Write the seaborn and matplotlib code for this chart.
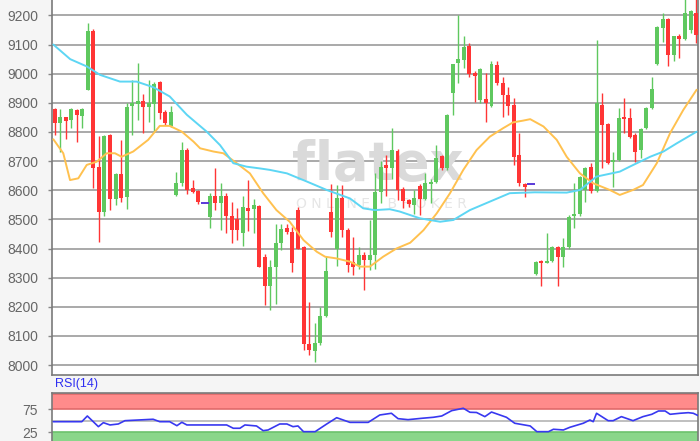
import numpy as np
import pandas as pd
import matplotlib
matplotlib.use('Agg')
import matplotlib.pyplot as plt
import seaborn as sns

# candles (daily)
opens = [8880, 8830, 8850, 8840, 8877, 8855, 8945, 9145, 8680, 8525,
         8790, 8570, 8655, 8578, 8890, 8895, 8905, 8887, 8895, 8970,
         8870, 8821, 8584, 8624, 8738, 8607, 8596, 8558, 8509, 8580,
         8557, 8581, 8510, 8500, 8454, 8540, 8535, 8545, 8372, 8272,
         8337, 8418, 8470, 8456, 8532, 8406, 8074, 8050, 8075, 8170,
         8525, 8400, 8572, 8463, 8355, 8343, 8377, 8362, 8378, 8595,
         8687, 8676, 8735, 8603, 8567, 8550, 8615, 8570, 8622, 8630,
         8716, 8678, 8935, 9038, 9048, 9094, 9004, 8910, 8912, 8890,
         9030, 8967, 8927, 8893, 8721, 8622, 8621, 8312, 8358, 8352,
         8358, 8406, 8370, 8406, 8512, 8520, 8600, 8681, 8598, 8893,
         8828, 8696, 8704, 8851, 8847, 8790, 8738, 8813, 8882, 9035,
         9156, 9187, 9065, 9128, 9119, 9151, 9208]
highs = [8882, 8880, 8852, 8882, 8880, 8882, 9175, 9153, 8785, 8790,
         8792, 8658, 8773, 8900, 8980, 9036, 8930, 8980, 8970, 8975,
         8875, 8890, 8662, 8765, 8745, 8635, 8600, 8560, 8592, 8675,
         8624, 8590, 8560, 8540, 8580, 8635, 8570, 8550, 8380, 8360,
         8485, 8485, 8484, 8475, 8544, 8410, 8215, 8145, 8200, 8375,
         8620, 8618, 8618, 8470, 8440, 8405, 8389, 8498, 8660, 8700,
         8720, 8815, 8740, 8610, 8570, 8600, 8620, 8658, 8640, 8756,
         8720, 8862, 9035, 9200, 9128, 9107, 9010, 9019, 9002, 9044,
         9045, 8990, 8956, 8916, 8796, 8625, 8622, 8358, 8360, 8452,
         8410, 8410, 8435, 8515, 8624, 8650, 8680, 8693, 9116, 8933,
         8830, 8733, 8882, 8916, 8882, 8795, 8815, 8885, 8988, 9165,
         9210, 9190, 9130, 9135, 9255, 9220, 9255]
lows = [8790, 8730, 8775, 8812, 8765, 8815, 8945, 8607, 8423, 8512,
        8532, 8550, 8560, 8535, 8790, 8840, 8798, 8836, 8800, 8845,
        8825, 8818, 8582, 8615, 8588, 8590, 8553, 8556, 8470, 8532,
        8463, 8455, 8420, 8430, 8410, 8460, 8455, 8335, 8205, 8190,
        8210, 8395, 8450, 8318, 8398, 8052, 8035, 8012, 8070, 8165,
        8440, 8340, 8440, 8320, 8310, 8330, 8257, 8326, 8330, 8555,
        8580, 8640, 8567, 8540, 8544, 8520, 8515, 8565, 8555, 8625,
        8670, 8670, 8860, 8967, 9020, 8988, 8904, 8900, 8836, 8885,
        8960, 8853, 8859, 8687, 8615, 8578, 8620, 8308, 8270, 8350,
        8355, 8270, 8337, 8400, 8469, 8510, 8560, 8590, 8595, 8675,
        8690, 8612, 8700, 8796, 8780, 8698, 8710, 8810, 8880, 9030,
        9110, 9025, 9042, 9053, 9115, 9140, 9105]
closes = [8830, 8850, 8838, 8880, 8860, 8880, 9148, 8678, 8525, 8786,
          8570, 8655, 8575, 8885, 8900, 8905, 8885, 8900, 8963, 8865,
          8832, 8867, 8626, 8738, 8600, 8595, 8560, 8558, 8580, 8557,
          8581, 8510, 8463, 8462, 8542, 8528, 8548, 8335, 8272, 8337,
          8418, 8466, 8456, 8350, 8400, 8074, 8052, 8075, 8170, 8323,
          8458, 8572, 8463, 8345, 8338, 8377, 8362, 8377, 8595, 8680,
          8676, 8738, 8600, 8564, 8553, 8572, 8570, 8626, 8627, 8710,
          8678, 8859, 9033, 9050, 9093, 9000, 8993, 9016, 8901, 9033,
          8967, 8927, 8890, 8715, 8624, 8610, 8621, 8355, 8351, 8358,
          8405, 8370, 8406, 8509, 8520, 8647, 8675, 8598, 8899, 8825,
          8695, 8704, 8847, 8844, 8784, 8733, 8810, 8882, 8947, 9162,
          9187, 9065, 9128, 9119, 9208, 9214, 9134]

# moving averages (read at candle positions)
ma_fast_x = [-0.25, 1.55, 2.77, 4.27, 5.79, 7.6, 9.4, 10.9, 12.1, 14.2,
             16.9, 19.0, 20.8, 23.0, 25.1, 26.3, 28.7, 30.5, 32.9, 35.3,
             37.7, 40.1, 42.5, 45.0, 47.4, 48.9, 51.0, 53.4, 55.2, 57.0,
             59.4, 61.8, 64.3, 66.7, 69.1, 71.5, 73.9, 76.3, 78.7, 81.1,
             82.9, 84.7, 86.0, 88.4, 90.8, 92.6, 95.0, 97.4, 100.4, 102.2,
             104.6, 106.4, 108.9, 111.3, 113.7, 116.1]
ma_fast = [8775, 8727, 8635, 8641, 8687, 8698, 8727, 8727, 8715, 8733,
           8773, 8821, 8821, 8801, 8767, 8744, 8733, 8727, 8693, 8658,
           8590, 8532, 8492, 8429, 8389, 8372, 8366, 8355, 8338, 8338,
           8372, 8400, 8420, 8463, 8521, 8590, 8670, 8738, 8784, 8813,
           8833, 8839, 8844, 8819, 8773, 8715, 8658, 8624, 8601, 8584,
           8601, 8618, 8693, 8796, 8876, 8945]
ma_slow_x = [-0.25, 2.8, 5.8, 8.2, 11.8, 14.8, 17.8, 20.8, 23.9, 27.5,
             29.9, 32.3, 34.7, 37.1, 38.9, 42.0, 45.6, 49.2, 53.4, 55.8,
             57.9, 60.6, 62.4, 66.0, 69.7, 72.1, 75.1, 78.7, 82.3, 86.8,
             92.6, 95.0, 98.0, 102.2, 104.0, 107.7, 110.1, 112.5, 116.1]
ma_slow = [9100, 9050, 9025, 8996, 8973, 8973, 8954, 8922, 8859, 8801,
           8755, 8693, 8681, 8675, 8670, 8658, 8630, 8601, 8572, 8538,
           8532, 8535, 8527, 8504, 8492, 8498, 8532, 8561, 8590, 8593,
           8592, 8601, 8647, 8664, 8681, 8715, 8733, 8761, 8801]

# RSI(14)
rsi_x = [-0.25, 4.9, 5.9, 7.9, 8.8, 10.0, 11.5, 12.7, 17.8, 19.0,
         20.8, 22.1, 23.0, 23.9, 31.1, 32.3, 33.5, 34.4, 36.5, 37.7,
         38.6, 40.7, 42.0, 43.1, 44.0, 45.0, 47.1, 49.2, 51.0, 53.4,
         56.7, 58.8, 60.9, 62.1, 63.9, 66.4, 68.5, 70.0, 71.8, 73.9,
         75.1, 76.3, 77.8, 79.0, 81.7, 83.2, 86.0, 87.2, 89.3, 90.2,
         92.0, 93.2, 95.6, 96.8, 97.4, 98.0, 100.1, 101.0, 102.5, 104.6,
         106.4, 108.0, 109.2, 110.4, 111.3, 113.1, 114.6, 115.5, 116.4]
rsi = [48, 48, 60.4, 37.2, 45.9, 40.9, 43, 50.2, 53.3, 48,
       48, 39.3, 46.7, 40.9, 40.9, 33.7, 33.7, 40.9, 38.7, 28.5,
       30, 43, 43, 37.2, 38.7, 26.3, 26.3, 43, 56.7, 46.5,
       46.5, 62.6, 66.3, 54.6, 52.4, 55.4, 57.6, 60.4, 72, 77.2,
       68.5, 68, 59, 69, 57.6, 44.6, 38.7, 26.3, 26.3, 31.5,
       30, 35.9, 44.6, 51.7, 48, 66.3, 50.2, 50.2, 59, 50.2,
       59, 64.1, 71.3, 71.3, 64.1, 66.3, 67.6, 66.3, 61.1]

price_ticks = [8000, 8100, 8200, 8300, 8400, 8500, 8600, 8700, 8800, 8900, 9000, 9100, 9200]
rsi_ticks = [25, 75]

green = '#5fc85f'
red = '#ff3535'
doji = '#5a3ad8'
grid_col = '#a9a9a9'
tick_col = '#666666'

df = pd.DataFrame({'open': opens, 'high': highs, 'low': lows, 'close': closes})
df['i'] = np.arange(len(df))
df['col'] = np.where(df['close'] > df['open'], green, red)
df['col'] = np.where(df['close'] == df['open'], doji, df['col'])

sns.set_theme(style='white')
plt.rcParams['font.family'] = ['Liberation Sans', 'DejaVu Sans']

fig = plt.figure(figsize=(7, 4.41), dpi=100, facecolor='#f5f5f5')
ax = fig.add_axes([52 / 700, 1 - 375 / 441, 646 / 700, 375 / 441])
ax2 = fig.add_axes([52 / 700, 0, 646 / 700, 48 / 441])

# main panel
ax.set_facecolor('white')
ax.set_yticks(price_ticks)
ax.set_xticks([])
ax.yaxis.grid(True, color=grid_col, lw=1.4, zorder=0)
ax.set_axisbelow(True)
ax.tick_params(axis='y', length=3, width=1, color='#888888', labelcolor=tick_col,
               labelsize=10, pad=7, left=True)
for s in ['left', 'bottom', 'right']:
    ax.spines[s].set_color('#7a7a7a')
    ax.spines[s].set_linewidth(1.2)
ax.spines['top'].set_visible(False)

# watermark
ax.text(0.505, 0.56, 'flatex', transform=ax.transAxes, ha='center', va='center',
        fontsize=38, fontweight='bold', color='#dadada', family='DejaVu Sans', zorder=0.6)
ax.text(0.51, 0.455, 'O N L I N E    B R O K E R', transform=ax.transAxes,
        ha='center', va='center', fontsize=10, color='#e6e6e6', family='DejaVu Sans', zorder=0.6)

# candles
ax.vlines(df['i'], df['low'], df['high'], colors=df['col'], lw=1.0, zorder=2)
body = df[df['close'] != df['open']]
ax.bar(body['i'], (body['close'] - body['open']).abs(),
       bottom=body[['open', 'close']].min(axis=1), width=0.72,
       color=body['col'], lw=0, zorder=3)
flat = df[df['close'] == df['open']]
ax.hlines(flat['close'], flat['i'] - 0.5, flat['i'] + 0.9, colors=doji, lw=1.4, zorder=3)

# moving averages
sns.lineplot(x=ma_fast_x, y=ma_fast, ax=ax, color='#ffc14f', lw=1.4, zorder=4)
sns.lineplot(x=ma_slow_x, y=ma_slow, ax=ax, color='#5dd6f4', lw=1.4, zorder=4)
ax.set_xlim(-0.49, 116.35)
ax.set_ylim(7966, 9253)

# RSI panel
ax2.set_facecolor('white')
ax2.axhspan(75, 111, color='#ff8b8b', lw=0, zorder=0)
ax2.axhspan(0, 25, color='#8ad68a', lw=0, zorder=0)
ax2.axhline(75, color='#e06a6a', lw=1.2, zorder=1)
ax2.axhline(108.8, color='#e06a6a', lw=1.2, zorder=1)
ax2.axhline(25, color='#6cc26c', lw=1.2, zorder=1)
ax2.axhline(50, color='#b4b4b4', lw=1.2, zorder=1)
sns.lineplot(x=rsi_x, y=rsi, ax=ax2, color='#3838f0', lw=1.2, zorder=3)
ax2.set_xlim(-0.49, 116.35)
ax2.set_ylim(6, 110.4)
ax2.set_xticks([])
ax2.set_yticks(rsi_ticks)
ax2.tick_params(axis='y', length=3, width=1, color='#888888', labelcolor=tick_col,
                labelsize=10, pad=7, left=True)
for s in ['left', 'right', 'top']:
    ax2.spines[s].set_color('#7a7a7a')
    ax2.spines[s].set_linewidth(1.2)
ax2.spines['bottom'].set_visible(False)
fig.text(55 / 700, 1 - 384 / 441, 'RSI(14)', color='#2f2ff2', fontsize=9, va='center')

fig.savefig('out.png', dpi=100, facecolor=fig.get_facecolor())
